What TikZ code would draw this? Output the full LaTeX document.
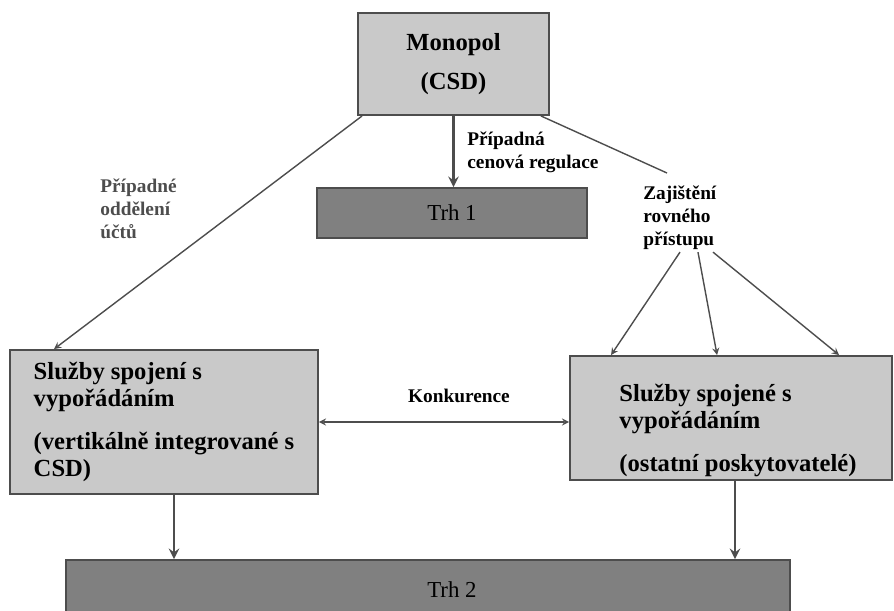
\documentclass[tikz,border=0pt]{standalone}
\usepackage{fontspec}
\setmainfont{Liberation Serif}
\usetikzlibrary{arrows, calc}
\definecolor{boxlight}{HTML}{C9C9C9}
\definecolor{boxdark}{HTML}{808080}
\definecolor{edge}{HTML}{4D4D4D}

\begin{document}
\begin{tikzpicture}[x=0.02cm,y=-0.02cm,>=stealth,
  every node/.style={font=\fontsize{11}{13}\selectfont\bfseries},
  box/.style={draw=edge,line width=1.1pt,fill=boxlight,align=left,
    font=\fontsize{14}{15.5}\selectfont\bfseries},
  market/.style={draw=edge,line width=1.1pt,fill=boxdark,
    font=\fontsize{13}{15}\selectfont},
  note/.style={align=left,inner sep=0pt,anchor=north west},
  link/.style={draw=edge,line width=.8pt},
  feed/.style={draw=edge,line width=1.6pt}]
 \useasboundingbox (0,0) rectangle (894,610);
 \clip (0,0) rectangle (894,610);
 % boxes
 \node[box,align=center,minimum width=3.82cm,minimum height=2.04cm] (mono)
   at (453.5,64) {Monopol\\[7pt](CSD)};
 \node[market,minimum width=5.4cm,minimum height=1cm] (trh1) at (452,213) {Trh 1};
 \node[box,minimum width=6.16cm,minimum height=2.88cm] (lbox) at (164,422)
   {Služby spojení s\\vypořádáním\\[9pt](vertikálně integrované s\\CSD)};
 \node[box,inner ysep=0pt,minimum width=6.44cm,minimum height=2.48cm] (rbox)
   at (731,418)
   {\rule{0pt}{24pt}\hspace*{8pt}Služby spojené s\\\hspace*{8pt}vypořádáním\\[9pt]%
    \hspace*{8pt}(ostatní poskytovatelé)};
 \node[market,minimum width=14.48cm,minimum height=1.2cm] (trh2) at (428,590)
   {\hspace*{0.96cm}Trh 2};
 % labels
 \node[note] (regl) at (467,132) {Případná\\cenová regulace};
 \node[note,text=edge] (oddl) at (100,179) {Případné\\oddělení\\účtů};
 \node[note] (zaj) at (643,186) {Zajištění\\rovného\\přístupu};
 \node (konk) at (459,396) {Konkurence};
 % connectors
 \draw[feed,->] (mono.south) -- (mono.south |- trh1.north);
 \draw[link,->] ($(mono.south west)+(5,0)$) -- ($(lbox.north west)+(45,0)$);
 \draw[link] ($(mono.south east)+(-9,0)$) -- ($(zaj.north west)+(24,-13)$);
 \foreach \s/\e in {37/42,55/148,70/270}
   \draw[link,->] ($(zaj.south west)+(\s,2)$) -- ($(rbox.north west)+(\e,0)$);
 \draw[link,<->] (lbox.east) -- (lbox.east -| rbox.west);
 \coordinate (ldown) at ($(lbox.south)+(10,0)$);
 \draw[feed,->] (ldown) -- (ldown |- trh2.north);
 \coordinate (rdown) at ($(rbox.south)+(4,0)$);
 \draw[feed,->] (rdown) -- (rdown |- trh2.north);
\end{tikzpicture}
\end{document}
